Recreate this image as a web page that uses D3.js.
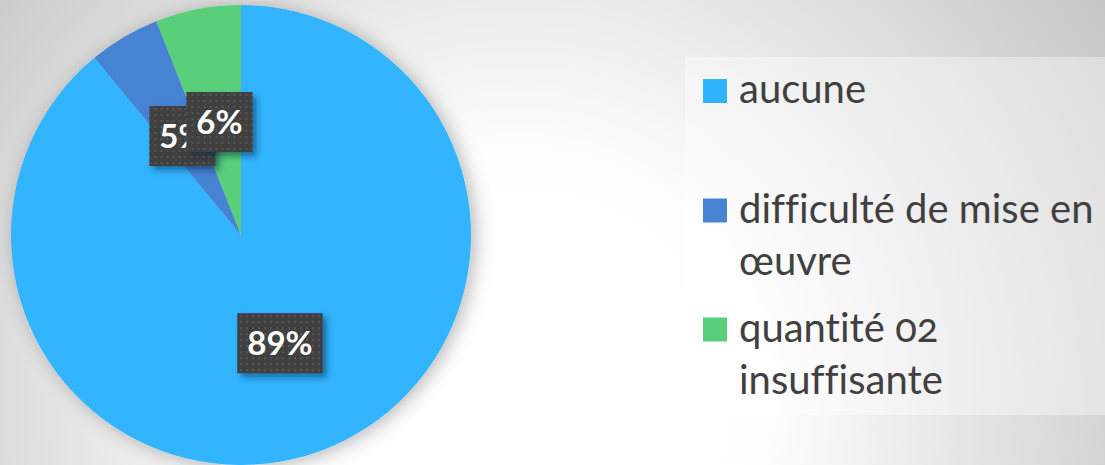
<!DOCTYPE html>
<html>
<head>
<meta charset="utf-8">
<script src="https://cdn.jsdelivr.net/npm/d3@7/dist/d3.min.js"></script>
<style>
  html, body { margin: 0; padding: 0; overflow: hidden; }
  svg { display: block; }
</style>
</head>
<body>
<svg id="chart" width="1105" height="465"></svg>
<script>
// Réponses : problèmes rencontrés
const categories = ["aucune", "difficulté de mise en œuvre", "quantité 02 insuffisante"];
const legendLines = [["aucune"], ["difficulté de mise en", "œuvre"], ["quantité 02", "insuffisante"]];
const values = [89, 5, 6];
const colors = ["#31B4FE", "#4683D3", "#58D07A"];

const W = 1105, H = 465;
const svg = d3.select("#chart");
const defs = svg.append("defs");

// slide background: soft radial gradient, white in the middle, grey at the edges
const bg = defs.append("radialGradient").attr("id", "bg")
  .attr("gradientUnits", "userSpaceOnUse")
  .attr("cx", 520).attr("cy", 400).attr("r", 720)
  .attr("fx", 520).attr("fy", 400);
bg.append("stop").attr("offset", "0%").attr("stop-color", "#ffffff");
bg.append("stop").attr("offset", "35%").attr("stop-color", "#fdfdfd");
bg.append("stop").attr("offset", "100%").attr("stop-color", "#c4c4c4");
svg.append("rect").attr("width", W).attr("height", H).attr("fill", "url(#bg)");

// glow under the pie
const pieShadow = defs.append("filter").attr("id", "pieShadow")
  .attr("x", "-20%").attr("y", "-20%").attr("width", "140%").attr("height", "140%");
pieShadow.append("feDropShadow").attr("dx", 4).attr("dy", 2)
  .attr("stdDeviation", 9).attr("flood-color", "#000").attr("flood-opacity", 0.28);

// shadow under the data labels
const lblShadow = defs.append("filter").attr("id", "lblShadow")
  .attr("x", "-30%").attr("y", "-30%").attr("width", "160%").attr("height", "160%");
lblShadow.append("feDropShadow").attr("dx", 4).attr("dy", 4)
  .attr("stdDeviation", 3).attr("flood-color", "#002040").attr("flood-opacity", 0.5);

// dotted fill of the label boxes
const pat = defs.append("pattern").attr("id", "dots")
  .attr("patternUnits", "userSpaceOnUse").attr("width", 6).attr("height", 6);
pat.append("rect").attr("width", 6).attr("height", 6).attr("fill", "#404040");
pat.append("rect").attr("x", 2).attr("y", 2).attr("width", 2).attr("height", 2).attr("fill", "#575757");

// legend panel
svg.append("rect").attr("x", 685).attr("y", 57).attr("width", 430).attr("height", 358)
  .attr("fill", "#ffffff").attr("fill-opacity", 0.38);

// pie
const cx = 241, cy = 235, R = 230;
const pie = d3.pie().sort(null).value(d => d.v);
const arcs = pie(values.map((v, i) => ({ v, i })));
const arc = d3.arc().innerRadius(0).outerRadius(R);

const g = svg.append("g").attr("transform", `translate(${cx},${cy})`);
g.append("g").attr("filter", "url(#pieShadow)")
  .selectAll("path").data(arcs).join("path")
  .attr("d", arc)
  .attr("fill", d => colors[d.data.i]);

// data labels at the arc centroids, in series order
const lg = g.append("g");
arcs.forEach(d => {
  const [x, y] = arc.centroid(d);
  const grp = lg.append("g").attr("transform", `translate(${x},${y})`);
  const box = grp.append("rect").attr("fill", "url(#dots)").attr("filter", "url(#lblShadow)");
  const t = grp.append("text")
    .attr("text-anchor", "middle").attr("dy", "0.35em")
    .attr("fill", "#ffffff")
    .style("font-family", "Lato, 'Open Sans', sans-serif")
    .style("font-weight", 700)
    .style("font-size", "33px")
    .text(d.data.v + "%");
  const tw = t.node().getComputedTextLength();
  const bw = tw + 20, bh = 60;
  box.attr("x", -bw / 2).attr("y", -bh / 2).attr("width", bw).attr("height", bh);
});

// legend
const leg = svg.append("g");
const legY = [103, 222.5, 341.5];
const lineH = 52;
categories.forEach((c, i) => {
  leg.append("rect").attr("x", 703).attr("y", legY[i] - 24)
    .attr("width", 24).attr("height", 24).attr("fill", colors[i]);
  const t = leg.append("text")
    .attr("x", 739).attr("y", legY[i])
    .attr("fill", "#404040")
    .style("font-family", "Lato, 'Open Sans', sans-serif")
    .style("font-size", "40px")
    .style("font-variant-ligatures", "none")
    .style("font-feature-settings", "'onum' 1, 'liga' 0")
    .style("font-variant-numeric", "oldstyle-nums");
  legendLines[i].forEach((ln, j) => {
    t.append("tspan").attr("x", 739).attr("y", legY[i] + j * lineH).text(ln);
  });
});
</script>
</body>
</html>
